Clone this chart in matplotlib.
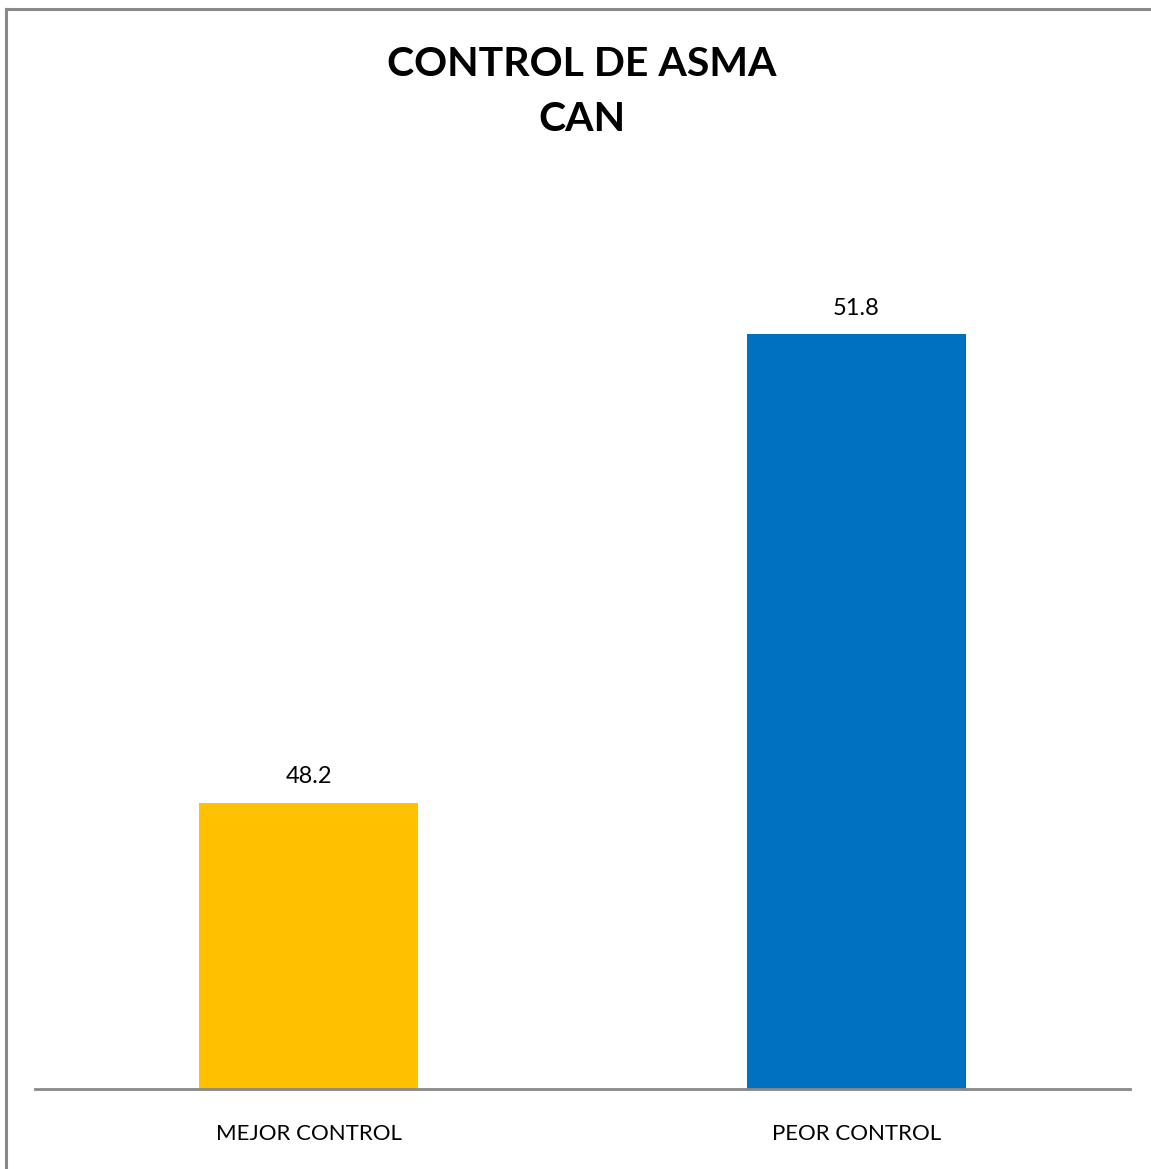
import matplotlib
matplotlib.use("Agg")
import matplotlib.pyplot as plt
from matplotlib.lines import Line2D

categories = ["MEJOR CONTROL", "PEOR CONTROL"]
values = [48.2, 51.8]
bar_colors = ["#FFC000", "#0070C0"]

W, H = 1151, 1169
fig = plt.figure(figsize=(W / 100, H / 100), dpi=100)
plt.rcParams["font.family"] = ["Lato", "DejaVu Sans"]

# plot area in pixel terms
left, right, base, top = 35, 1130, 1089, 48
ax = fig.add_axes([left / W, 1 - base / H, (right - left) / W, (base - top) / H])

x = range(len(categories))
bars = ax.bar(x, values, width=0.4, color=bar_colors, zorder=2)
ax.set_xlim(-0.5, 1.5)
ax.set_ylim(46, 54)

for b, v in zip(bars, values):
    ax.annotate(f"{v:.1f}", (b.get_x() + b.get_width() / 2, v),
                xytext=(0, 11), textcoords="offset points",
                ha="center", va="bottom", fontsize=17, color="#000000")

ax.set_xticks(list(x))
ax.set_xticklabels(categories, fontsize=16)
ax.tick_params(axis="x", length=0, pad=25)
ax.set_yticks([])
for s in ["top", "right", "left"]:
    ax.spines[s].set_visible(False)
ax.spines["bottom"].set_color("#898989")
ax.spines["bottom"].set_linewidth(2)

fig.text(582 / W, 1 - 92 / H, "CONTROL DE ASMA\nCAN", ha="center", va="center",
         fontsize=29.5, fontweight="bold", linespacing=1.62)

# chart frame (left and top edges)
fig.add_artist(Line2D([6 / W, 6 / W], [0, 1 - 9 / H], color="#898989", lw=2.2,
                      transform=fig.transFigure))
fig.add_artist(Line2D([6 / W, 1], [1 - 9 / H, 1 - 9 / H], color="#898989", lw=2.2,
                      transform=fig.transFigure))

fig.savefig("out.png", dpi=100)
